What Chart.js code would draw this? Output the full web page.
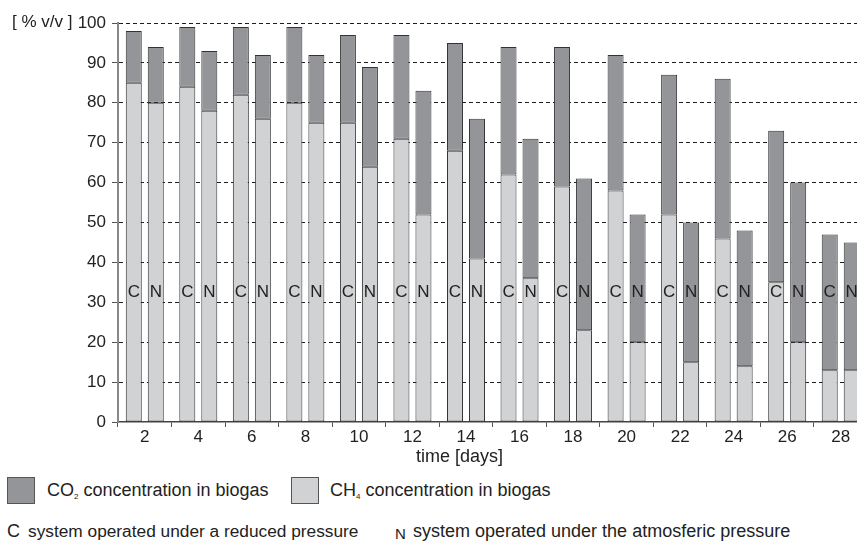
<!DOCTYPE html>
<html>
<head>
<meta charset="utf-8">
<script src="https://cdn.jsdelivr.net/npm/chart.js@4.4.1/dist/chart.umd.min.js"></script>
<style>
  html, body { margin:0; padding:0; background:#fff; overflow:hidden; }
  #wrap { position:relative; width:857px; height:542px; overflow:hidden; font-family:"Liberation Sans", Arial, Helvetica, sans-serif; color:#222; }
  #c { position:absolute; left:0; top:0; }
  .t { position:absolute; white-space:nowrap; font-size:18px; line-height:18px; }
  .box { position:absolute; width:26px; height:25px; border:1px solid #555; }
  sub { font-size:8px; vertical-align:baseline; position:relative; top:3px; }
</style>
</head>
<body>
<div id="wrap">
  <canvas id="c" width="870" height="470"></canvas>
  <div class="t" style="left:12px; top:13px; font-size:17px; line-height:17px;">[ % v/v ]</div>
  <div class="t" style="left:416px; top:447px;">time [days]</div>
  <div class="box" style="left:7px; top:477px; background:#939598;"></div>
  <div class="t" style="left:47px; top:481px;">CO<sub>2</sub> concentration in biogas</div>
  <div class="box" style="left:291px; top:477px; background:#d1d2d4;"></div>
  <div class="t" style="left:330px; top:481px;">CH<sub>4</sub> concentration in biogas</div>
  <div class="t" style="left:7px; top:522px;">C</div>
  <div class="t" style="left:28px; top:522px; font-size:17.3px;">system operated under a reduced pressure</div>
  <div class="t" style="left:395px; top:525px; font-size:15px;">N</div>
  <div class="t" style="left:413px; top:522px;">system operated under the atmosferic pressure</div>
</div>
<script>
const days = ['2','4','6','8','10','12','14','16','18','20','22','24','26','28'];
const ch4C = [85,84,82,80,75,71,68,62,59,58,52,46,35,13];
const co2C = [13,15,17,19,22,26,27,32,35,34,35,40,38,34];
const ch4N = [80,78,76,75,64,52,41,36,23,20,15,14,20,13];
const co2N = [14,15,16,17,25,31,35,35,38,32,35,34,40,32];
const yTicks = [0,10,20,30,40,50,60,70,80,90,100];
const barLetters = ['C','N'];

const CO2_COLOR = '#939598';
const CH4_COLOR = '#d1d2d4';
const FONT = '"Liberation Sans", Arial, Helvetica, sans-serif';

const common = { borderColor:'#333', borderWidth:1, borderSkipped:false, barPercentage:0.727, categoryPercentage:0.822 };

const letterPlugin = {
  id:'letters',
  afterDatasetsDraw(chart) {
    const ctx = chart.ctx;
    const y = chart.scales.y.getPixelForValue(32.5);
    ctx.save();
    ctx.font = '17px ' + FONT;
    ctx.fillStyle = '#222';
    ctx.textAlign = 'center';
    ctx.textBaseline = 'middle';
    [1,3].forEach((di, k) => {
      chart.getDatasetMeta(di).data.forEach(el => {
        ctx.fillText(barLetters[k], el.x, y);
      });
    });
    ctx.restore();
  }
};

new Chart(document.getElementById('c'), {
  type:'bar',
  data:{
    labels: days,
    datasets:[
      Object.assign({label:'CH4 C', data:ch4C, stack:'C', backgroundColor:CH4_COLOR}, common),
      Object.assign({label:'CO2 C', data:co2C, stack:'C', backgroundColor:CO2_COLOR}, common),
      Object.assign({label:'CH4 N', data:ch4N, stack:'N', backgroundColor:CH4_COLOR}, common),
      Object.assign({label:'CO2 N', data:co2N, stack:'N', backgroundColor:CO2_COLOR}, common)
    ]
  },
  options:{
    responsive:false,
    animation:false,
    devicePixelRatio:1,
    layout:{ padding:{ top:23, left:0, right:2.5, bottom:0 } },
    plugins:{ legend:{display:false}, tooltip:{enabled:false}, title:{display:false} },
    scales:{
      x:{
        stacked:true,
        offset:true,
        grid:{ offset:true, drawOnChartArea:false, drawTicks:true, tickLength:5, tickColor:'#555', tickWidth:1 },
        border:{ color:'#444', width:1.5 },
        ticks:{ font:{ size:17, family:FONT }, color:'#222', padding:0, maxRotation:0, autoSkip:false },
        afterFit(s){ s.height = 48; }
      },
      y:{
        stacked:true,
        min:0, max:100,
        afterBuildTicks(s){ s.ticks = yTicks.map(v => ({value:v})); },
        ticks:{ font:{ size:17, family:FONT }, color:'#222', padding:6 },
        grid:{
          color:(c) => (c.tick && c.tick.value === 0) ? 'rgba(0,0,0,0)' : '#1e1e1e',
          lineWidth:1, tickColor:'#555', tickLength:6, tickBorderDash:[], drawTicks:true
        },
        border:{ color:'#888', width:2, dash:[4,3] },
        afterFit(s){ s.width = 118; }
      }
    }
  },
  plugins:[letterPlugin]
});
</script>
</body>
</html>
